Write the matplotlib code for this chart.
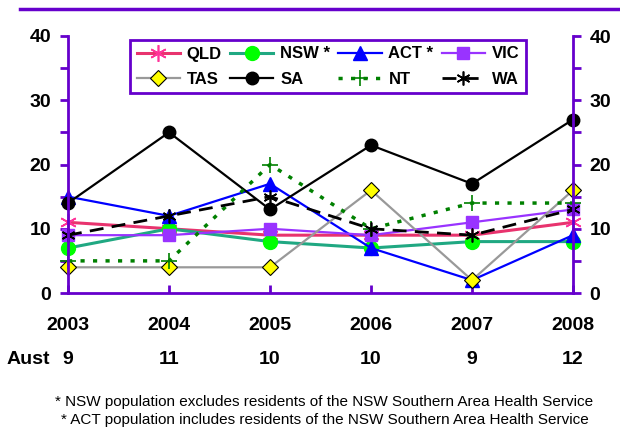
import matplotlib
matplotlib.use("Agg")
import matplotlib.pyplot as plt
from matplotlib.lines import Line2D
from matplotlib.transforms import blended_transform_factory

plt.rcParams['font.family'] = ['Liberation Sans', 'DejaVu Sans']

# Data
years = [2003, 2004, 2005, 2006, 2007, 2008]
aust = [9, 11, 10, 10, 9, 12]
qld = [11, 10, 9, 9, 9, 11]
nsw = [7, 10, 8, 7, 8, 8]
act = [15, 12, 17, 7, 2, 9]
vic = [9, 9, 10, 9, 11, 13]
tas = [4, 4, 4, 16, 2, 16]
sa = [14, 25, 13, 23, 17, 27]
nt = [5, 5, 20, 10, 14, 14]
wa = [9, 12, 15, 10, 9, 13]

purple = "#6600CC"
W, H = 620, 428

fig = plt.figure(figsize=(6.2, 4.28), dpi=100)
ax = fig.add_axes([68 / W, 1 - 293 / H, (573 - 68) / W, (293 - 36) / H])

# series
kw = dict(clip_on=False)
l_qld, = ax.plot(years, qld, color="#E8336E", lw=2.2, marker=(6, 2, 0), ms=12,
                 mec="#FF3399", mew=1.2, label="QLD", **kw)
l_nsw, = ax.plot(years, nsw, color="#20A882", lw=2.2, marker="o", ms=10,
                 mfc="#00FF00", mec="#00FF00", label="NSW *", **kw)
l_act, = ax.plot(years, act, color="#0000FF", lw=1.6, marker="^", ms=10,
                 mfc="#0000FF", mec="#0000FF", label="ACT *", **kw)
l_vic, = ax.plot(years, vic, color="#9933FF", lw=1.6, marker="s", ms=8,
                 mfc="#9933FF", mec="#9933FF", label="VIC", **kw)
l_tas, = ax.plot(years, tas, color="#999999", lw=1.6, marker="D", ms=8,
                 mfc="#FFFF00", mec="black", mew=0.8, label="TAS", **kw)
l_sa, = ax.plot(years, sa, color="black", lw=1.6, marker="o", ms=9,
                mfc="black", mec="black", label="SA", **kw)
l_nt, = ax.plot(years, nt, color="#008000", lw=2.5, ls=(0, (1.2, 2.4)),
                marker="+", ms=11, mew=1.2, label="NT", **kw)
l_wa, = ax.plot(years, wa, color="black", lw=2, ls=(0, (5, 3)),
                marker=(6, 2, 0), ms=10, mew=1.2, label="WA", **kw)

ax.set_xlim(2003, 2008)
ax.set_ylim(0, 40)

for side in ["left", "right", "bottom"]:
    ax.spines[side].set_color(purple)
    ax.spines[side].set_linewidth(2)
ax.spines["top"].set_visible(False)

ax.set_yticks(range(0, 41, 10))
ax.set_yticks(range(5, 40, 10), minor=True)
ax.tick_params(axis="y", which="both", direction="out", length=6, width=2,
               color=purple, labelsize=14, pad=6)
for t in ax.get_yticklabels():
    t.set_fontweight("bold")

ax.set_xticks(years)
ax.set_xticklabels([str(y) for y in years], fontsize=14, fontweight="bold")
ax.tick_params(axis="x", direction="in", length=6, width=2, color=purple, pad=17)

# right axis
ax2 = ax.twinx()
ax2.set_ylim(0, 40)
ax2.set_yticks(range(0, 41, 10))
ax2.set_yticks(range(5, 40, 10), minor=True)
ax2.tick_params(axis="y", which="both", direction="out", length=6, width=2,
                color=purple, labelsize=14, pad=6)
for t in ax2.get_yticklabels():
    t.set_fontweight("bold")
for s in ax2.spines.values():
    s.set_visible(False)

# legend (column-major order for 4 columns)
handles = [l_qld, l_tas, l_nsw, l_sa, l_act, l_nt, l_vic, l_wa]
leg = fig.legend(handles=handles, labels=[h.get_label() for h in handles],
                 ncol=4, loc="center",
                 bbox_to_anchor=(132 / W, 1 - 95 / H, 392 / W, 57 / H),
                 prop={"weight": "bold", "size": 12}, frameon=True,
                 fancybox=False, framealpha=1, edgecolor=purple,
                 handlelength=2.6, handletextpad=0.4, columnspacing=0.5,
                 labelspacing=0.6, borderpad=0.4)
leg.get_frame().set_linewidth(2)

# Aust row
tr = blended_transform_factory(ax.transData, fig.transFigure)
fig.text(7 / W, 1 - 360 / H, "Aust", fontsize=14, fontweight="bold", va="center")
for y, v in zip(years, aust):
    ax.text(y, 1 - 360 / H, str(v), transform=tr, fontsize=14, fontweight="bold",
            ha="center", va="center")

# top rule
fig.add_artist(Line2D([20 / W, 1], [1 - 9 / H, 1 - 9 / H], color=purple, lw=2.5))

# footnotes
fig.text(324 / W, 1 - 402 / H,
         "* NSW population excludes residents of the NSW Southern Area Health Service",
         fontsize=11, ha="center", va="center")
fig.text(325 / W, 1 - 420 / H,
         "* ACT population includes residents of the NSW Southern Area Health Service",
         fontsize=11, ha="center", va="center")

fig.savefig("out.png", dpi=100)
